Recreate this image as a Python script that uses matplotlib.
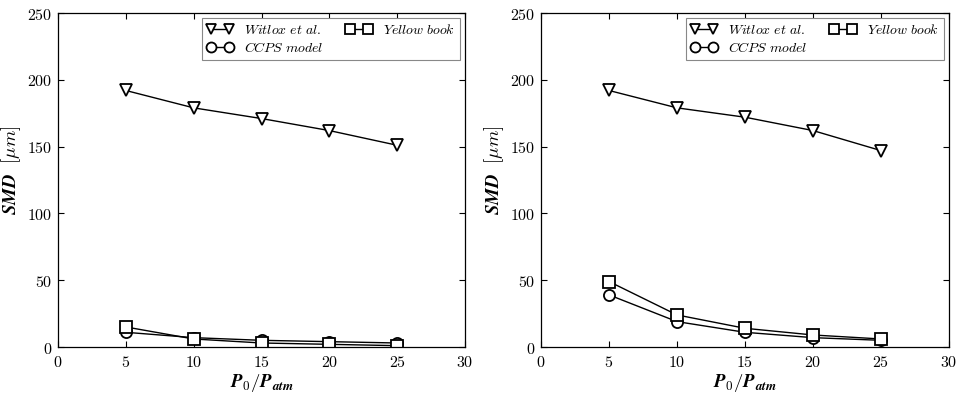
import numpy as np
import matplotlib.pyplot as plt

plt.rcParams['mathtext.fontset'] = 'cm'
plt.rcParams['font.family'] = 'serif'
plt.rcParams['font.serif'] = ['DejaVu Serif']

# pressure ratio
p_ratio = [5, 10, 15, 20, 25]

# left panel
witlox_a = [192, 179, 171, 162, 151]
ccps_a = [11, 7, 5, 4, 3]
yellow_a = [15, 6, 3, 2, 1]

# right panel
witlox_b = [192, 179, 172, 162, 147]
ccps_b = [39, 19, 11, 7, 5]
yellow_b = [49, 24, 14, 9, 6]

xticks = [0, 5, 10, 15, 20, 25, 30]
yticks = [0, 50, 100, 150, 200, 250]

fig = plt.figure(figsize=(9.61, 3.94), dpi=100)
ax1 = fig.add_axes([58/961, 47/394, 407/961, 334/394])
ax2 = fig.add_axes([541/961, 47/394, 408/961, 334/394])

def draw(ax, w, c, y):
    kw = dict(color='black', lw=1.0, mfc='white', mec='black', mew=1.3, ms=8)
    ax.plot(p_ratio, w, marker='v', label=r'$\mathit{Witlox\ et\ al.}$', **kw)
    ax.plot(p_ratio, c, marker='o', label=r'$\mathit{CCPS\ model}$', **kw)
    ax.plot(p_ratio, y, marker='s', label=r'$\mathit{Yellow\ book}$', **kw)
    ax.set_xlim(0, 30)
    ax.set_ylim(0, 250)
    ax.set_xticks(xticks)
    ax.set_yticks(yticks)
    ax.set_xticklabels([f'${t}$' for t in xticks], fontsize=11.5)
    ax.set_yticklabels([f'${t}$' for t in yticks], fontsize=11.5)
    ax.tick_params(direction='in', top=True, right=True, length=4, width=0.8)
    ax.tick_params(axis='x', pad=5)
    ax.tick_params(axis='y', pad=4)
    for s in ax.spines.values():
        s.set_linewidth(0.9)
    ax.set_xlabel(r'$\mathbfit{P}_{\mathbf{0}}\mathbf{/}\mathbfit{P}_{\mathbfit{atm}}$', fontsize=13.5)
    ax.xaxis.set_label_coords(0.5, -0.075)
    ax.set_ylabel(r'$\mathbfit{SMD}\ \ [\mu m]$', fontsize=13.5)
    ax.yaxis.set_label_coords(-0.085, 0.53)
    leg = ax.legend(loc='upper right', ncol=2, numpoints=2, fontsize=10,
                    markerscale=0.9,
                    fancybox=False, framealpha=1, edgecolor='#888888',
                    handlelength=1.9, handletextpad=0.8, columnspacing=1.6,
                    borderpad=0.35, labelspacing=0.3, borderaxespad=0.35)
    leg.get_frame().set_linewidth(0.8)

draw(ax1, witlox_a, ccps_a, yellow_a)
draw(ax2, witlox_b, ccps_b, yellow_b)

fig.savefig('out.png', dpi=100)
